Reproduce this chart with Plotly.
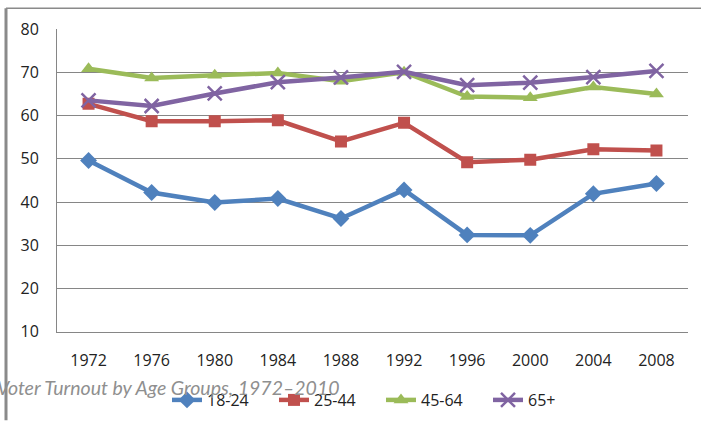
import plotly.graph_objects as go

# Election years and turnout (%) by age group
years = ["1972", "1976", "1980", "1984", "1988", "1992", "1996", "2000", "2004", "2008"]
age_18_24 = [49.6, 42.2, 39.9, 40.8, 36.2, 42.8, 32.4, 32.3, 41.9, 44.3]
age_25_44 = [62.7, 58.7, 58.7, 58.9, 54.0, 58.3, 49.2, 49.8, 52.2, 51.9]
age_45_64 = [70.8, 68.7, 69.3, 69.8, 67.9, 70.0, 64.4, 64.1, 66.6, 65.0]
age_65_up = [63.5, 62.2, 65.1, 67.7, 68.8, 70.1, 67.0, 67.6, 68.9, 70.3]

series = [
    ("18-24", age_18_24, "#4F81BD", "diamond", 13),
    ("25-44", age_25_44, "#C0504D", "square", 12),
    ("45-64", age_45_64, "#9BBB59", "triangle-up", 13),
    ("65+", age_65_up, "#8064A2", "x-thin", 14),
]

fig = go.Figure()
for name, vals, color, symbol, size in series:
    marker = dict(symbol=symbol, size=size, color=color)
    if symbol == "x-thin":
        marker["line"] = dict(color=color, width=2.5)
    fig.add_trace(go.Scatter(
        x=years, y=vals, name=name, mode="lines+markers",
        line=dict(color=color, width=4.5),
        marker=marker,
    ))

W, H = 701, 423
L, R, T, B = 57, 13, 29, 89

fig.update_layout(
    width=W, height=H,
    margin=dict(l=L, r=R, t=T, b=B),
    paper_bgcolor="white", plot_bgcolor="white",
    font=dict(family="Open Sans", size=16, color="#222222"),
    showlegend=True,
    legend=dict(
        orientation="h", xref="container", yref="container",
        x=167 / W, xanchor="left", y=1 - 400 / H, yanchor="middle",
        font=dict(size=16, color="#222222"),
        entrywidth=62, entrywidthmode="pixels",
        itemwidth=30, tracegroupgap=0, bgcolor="rgba(0,0,0,0)",
    ),
    xaxis=dict(
        type="category", showgrid=False, showline=True,
        linecolor="#868686", linewidth=1, ticks="", ticklabelstandoff=14,
        range=[-0.5, 9.5], fixedrange=True,
    ),
    yaxis=dict(
        range=[10, 80], dtick=10, tick0=10, showgrid=True,
        gridcolor="#868686", gridwidth=1, showline=True,
        linecolor="#868686", linewidth=1, ticks="", ticklabelstandoff=14,
        zeroline=False, fixedrange=True,
    ),
    annotations=[dict(
        text="<i>Voter Turnout by Age Groups, 1972\u20132010</i>",
        xref="paper", yref="paper",
        x=(-5 - L) / (W - L - R), xanchor="left",
        y=1 - (390 - T) / (H - T - B), yanchor="middle",
        showarrow=False,
        font=dict(family="Lato", size=19.5, color="#8f8f8f"),
    )],
    shapes=[
        # outer frame: top edge and left edge
        dict(type="line", xref="paper", yref="paper",
             x0=(6 - L) / (W - L - R), x1=(W - L) / (W - L - R),
             y0=1 + (T - 8) / (H - T - B), y1=1 + (T - 8) / (H - T - B),
             line=dict(color="#8a8a8a", width=1.5), layer="above"),
        dict(type="line", xref="paper", yref="paper",
             x0=(6 - L) / (W - L - R), x1=(6 - L) / (W - L - R),
             y0=1 + (T - 8) / (H - T - B), y1=-(B) / (H - T - B),
             line=dict(color="#8a8a8a", width=3), layer="above"),
    ],
)

fig.write_html("out.html")
